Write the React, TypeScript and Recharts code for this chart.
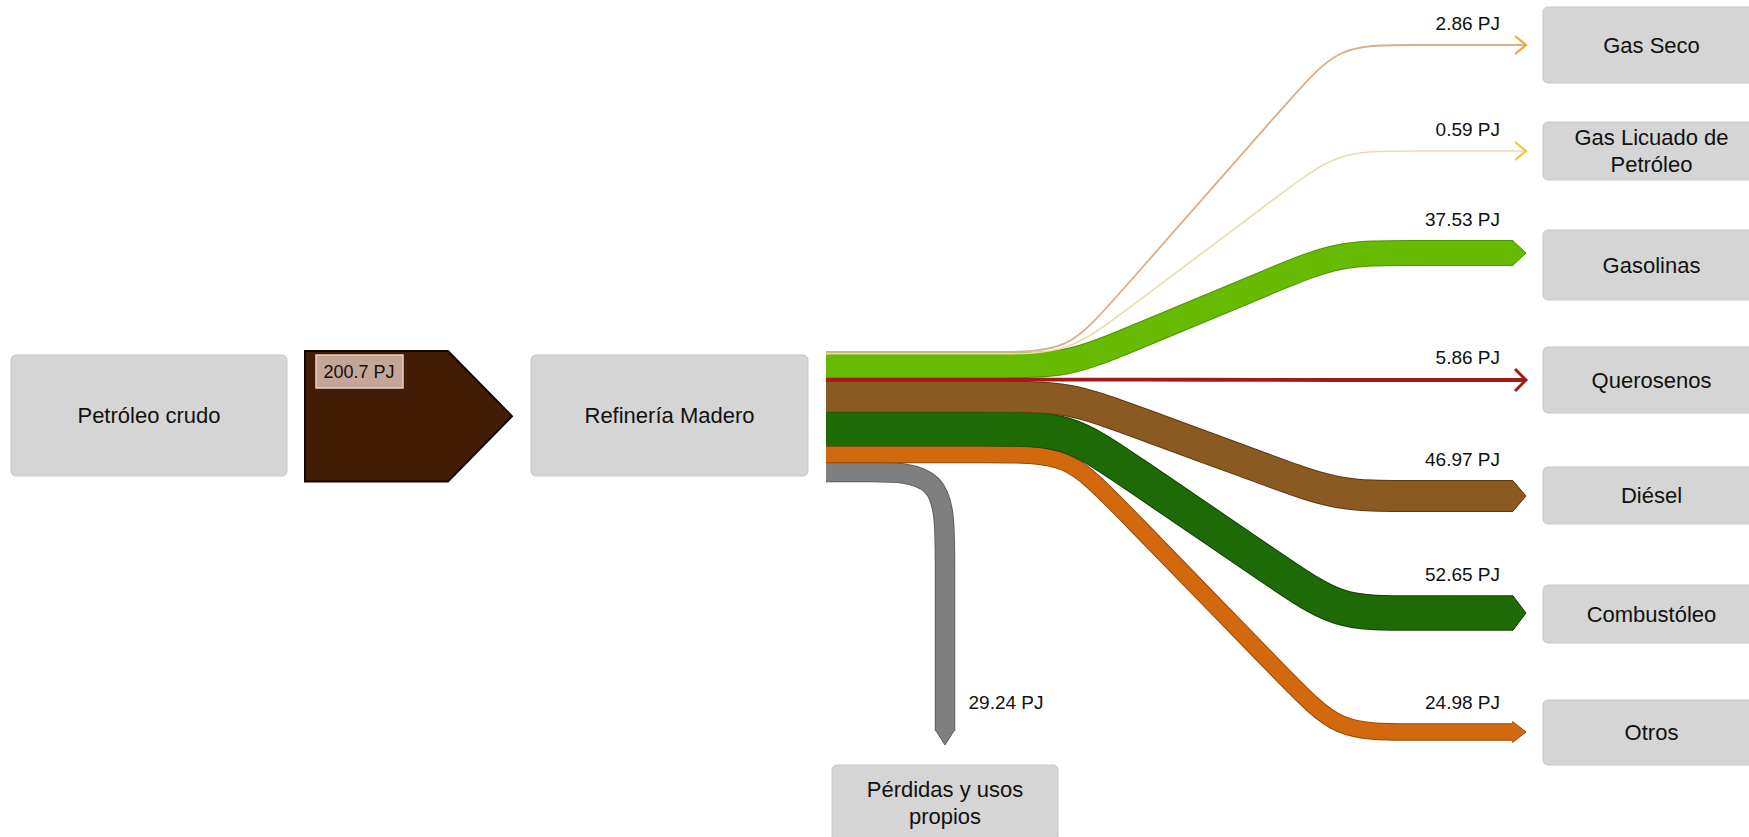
import React from "react"
import { ComposedChart, Line, XAxis, YAxis, ReferenceArea, ReferenceDot } from "recharts"

// datos (PJ)
const origen = "Petróleo crudo"
const refineria = "Refinería Madero"
const crudoPJ = 200.7
const productos = ["Gas Seco", "Gas Licuado de Petróleo", "Gasolinas", "Querosenos", "Diésel", "Combustóleo", "Otros"]
const productosPJ = [2.86, 0.59, 37.53, 5.86, 46.97, 52.65, 24.98]
const perdidas = "Pérdidas y usos propios"
const perdidasPJ = 29.24

// colores de cada flujo
const colores = ["#d9b088", "#e9dbae", "#66bb00", "#a31818", "#8b5a22", "#1e6a06", "#d2690e"]
const bordes = ["#d9b088", "#e9dbae", "#4f9300", "#7a0c0c", "#5c3a12", "#0f4200", "#9a4806"]
const puntas = ["#f2a53a", "#eec53c", "#66bb00", "#a31818", "#8b5a22", "#1e6a06", "#d2690e"]
const grisPerdidas = "#7f7f7f"

// layout en px
const W = 1749
const H = 837
const PX_PER_PJ = 0.65
const FONT = '"Liberation Sans", Arial, Helvetica, sans-serif'
const STACK_TOP = 351
const FLOW_X0 = 826
const BEND_X0 = 1068
const BEND_X1 = 1338
const ROUND = 66
const END_X = 1513
const TIP = 13
const filaY = [45, 151, 253, 380, 496, 613, 732]
const cajasY = [[7, 83], [122, 180], [230, 300], [347, 413], [467, 524], [585, 643], [700, 765]]
const CAJA_X = [1543, 1760]
const PERDIDAS_X = 945
const PERDIDAS_FIN = 731

const ancho = (v: number) => Math.max(v * PX_PER_PJ, 1.6)

function lineas(s: string) {
  if (s.length <= 16) return [s]
  const i = s.lastIndexOf(" ", 16)
  return [s.slice(0, i), s.slice(i + 1)]
}

function Caja(props: any) {
  const { x, y, width, height, texto } = props
  const ls = lineas(texto)
  const cy = y + height / 2
  return (
    <g>
      <rect x={x} y={y} width={width} height={height} rx={5} ry={5} fill="#d5d5d5" stroke="#c8c8c8" strokeWidth={1} />
      {ls.map((l, i) => (
        <text
          key={i}
          x={x + width / 2}
          y={cy + (i - (ls.length - 1) / 2) * 27}
          textAnchor="middle"
          dominantBaseline="central"
          fontFamily={FONT}
          fontSize={22}
          fill="#111"
        >
          {l}
        </text>
      ))}
    </g>
  )
}

function FlechaCrudo(props: any) {
  const { x, y, width, height } = props
  const punta = 64
  const pts = [
    [x, y],
    [x + width - punta, y],
    [x + width, y + height / 2],
    [x + width - punta, y + height],
    [x, y + height],
  ]
    .map((p) => p.join(","))
    .join(" ")
  return (
    <g>
      <polygon points={pts} fill="#421c05" stroke="#140700" strokeWidth={2} />
      <rect x={x + 11} y={y + 4} width={87} height={33} fill="#c4a597" stroke="#ead0c2" strokeWidth={1.5} />
      <text x={x + 54} y={y + 21} textAnchor="middle" dominantBaseline="central" fontFamily={FONT} fontSize={18} fill="#111">
        {crudoPJ.toFixed(1)} PJ
      </text>
    </g>
  )
}

// posición de cada flujo a la salida de la refinería (apilados por valor)
const inicios: number[] = []
productosPJ.reduce((acc, v) => {
  inicios.push(acc + ancho(v) / 2)
  return acc + v * PX_PER_PJ
}, STACK_TOP)
const perdidasY0 = STACK_TOP + productosPJ.reduce((a, b) => a + b, 0) * PX_PER_PJ + (perdidasPJ * PX_PER_PJ) / 2

const fino = (i: number) => productosPJ[i] < 10

// recorrido: horizontal, diagonal, horizontal (esquinas redondeadas con curva basis)
function puntosFlujo(i: number) {
  const y0 = inicios[i]
  const y1 = filaY[i]
  const dx = BEND_X1 - BEND_X0
  const dy = y1 - y0
  const len = Math.hypot(dx, dy)
  const ux = (dx / len) * ROUND
  const uy = (dy / len) * ROUND
  const fin = fino(i) ? END_X + TIP - 1 : END_X
  return [
    { x: FLOW_X0, y: y0 },
    { x: BEND_X0 - ROUND, y: y0 },
    { x: BEND_X0, y: y0 },
    { x: BEND_X0 + ux, y: y0 + uy },
    { x: BEND_X1 - ux, y: y1 - uy },
    { x: BEND_X1, y: y1 },
    { x: BEND_X1 + ROUND, y: y1 },
    { x: fin, y: y1 },
  ]
}

const puntosPerdidas = [
  { x: FLOW_X0, y: perdidasY0 },
  { x: PERDIDAS_X - 80, y: perdidasY0 },
  { x: PERDIDAS_X, y: perdidasY0 },
  { x: PERDIDAS_X, y: perdidasY0 + 80 },
  { x: PERDIDAS_X, y: PERDIDAS_FIN },
]

function Punta(i: number) {
  return (p: any) => {
    const { cx, cy } = p
    const w = ancho(productosPJ[i])
    const etiqueta = (
      <text
        x={cx - 13}
        y={cy - w / 2 - 21}
        textAnchor="end"
        dominantBaseline="central"
        fontFamily={FONT}
        fontSize={19}
        fill="#111"
      >
        {productosPJ[i].toFixed(2)} PJ
      </text>
    )
    if (fino(i)) {
      const h = i === 3 ? 11 : 9
      return (
        <g>
          <polyline
            points={`${cx + TIP - 11},${cy - h} ${cx + TIP},${cy} ${cx + TIP - 11},${cy + h}`}
            fill="none"
            stroke={puntas[i]}
            strokeWidth={i === 3 ? 3 : 2.2}
          />
          {etiqueta}
        </g>
      )
    }
    const ext = i === 6 ? 2 : 0
    const top = cy - w / 2 - ext
    const bot = cy + w / 2 + ext
    return (
      <g>
        <polygon points={`${cx - 1},${top} ${cx},${top} ${cx + TIP},${cy} ${cx},${bot} ${cx - 1},${bot}`} fill={puntas[i]} />
        <polyline points={`${cx - 1},${top} ${cx},${top} ${cx + TIP},${cy} ${cx},${bot} ${cx - 1},${bot}`} fill="none" stroke={bordes[i]} strokeWidth={1} />
        {etiqueta}
      </g>
    )
  }
}

function PuntaPerdidas(p: any) {
  const { cx, cy } = p
  const w = perdidasPJ * PX_PER_PJ
  return (
    <g>
      <polygon points={`${cx - w / 2},${cy - 1} ${cx + w / 2},${cy - 1} ${cx},${cy + 14}`} fill={grisPerdidas} />
      <polyline points={`${cx - w / 2},${cy - 1} ${cx},${cy + 14} ${cx + w / 2},${cy - 1}`} fill="none" stroke="#5f5f5f" strokeWidth={1} />
      <text x={cx + w / 2 + 14} y={cy - 29} textAnchor="start" dominantBaseline="central" fontFamily={FONT} fontSize={19} fill="#111">
        {perdidasPJ.toFixed(2)} PJ
      </text>
    </g>
  )
}

const orden = [6, 5, 4, 3, 2, 1, 0]

export default function App() {
  return (
    <div style={{ position: "absolute", left: 0, top: 0, width: W, height: H, background: "#fff" }}>
      <ComposedChart width={W} height={H} margin={{ top: 0, right: 0, bottom: 0, left: 0 }}>
        <XAxis type="number" dataKey="x" domain={[0, W]} allowDataOverflow hide />
        <YAxis type="number" dataKey="y" domain={[0, H]} allowDataOverflow reversed hide width={0} />

        <ReferenceArea x1={11} x2={287} y1={355} y2={476} ifOverflow="visible" shape={(p: any) => <Caja {...p} texto={origen} />} />
        <ReferenceArea
          x1={305}
          x2={512}
          y1={STACK_TOP}
          y2={STACK_TOP + crudoPJ * PX_PER_PJ}
          ifOverflow="visible"
          shape={(p: any) => <FlechaCrudo {...p} />}
        />
        <ReferenceArea x1={531} x2={808} y1={355} y2={476} ifOverflow="visible" shape={(p: any) => <Caja {...p} texto={refineria} />} />
        {productos.map((nombre, i) => (
          <ReferenceArea
            key={nombre}
            x1={CAJA_X[0]}
            x2={CAJA_X[1]}
            y1={cajasY[i][0]}
            y2={cajasY[i][1]}
            ifOverflow="visible"
            shape={(p: any) => <Caja {...p} texto={nombre} />}
          />
        ))}
        <ReferenceArea x1={832} x2={1058} y1={765} y2={841} ifOverflow="visible" shape={(p: any) => <Caja {...p} texto={perdidas} />} />

        <Line
          data={puntosPerdidas}
          dataKey="y"
          type="basis"
          stroke="#5f5f5f"
          strokeWidth={perdidasPJ * PX_PER_PJ + 1.5}
          dot={false}
          activeDot={false}
          isAnimationActive={false}
        />
        <Line
          data={puntosPerdidas}
          dataKey="y"
          type="basis"
          stroke={grisPerdidas}
          strokeWidth={perdidasPJ * PX_PER_PJ - 0.5}
          dot={false}
          activeDot={false}
          isAnimationActive={false}
        />
        {orden.map((i) =>
          fino(i) ? null : (
            <Line
              key={`b${i}`}
              data={puntosFlujo(i)}
              dataKey="y"
              type="basis"
              stroke={bordes[i]}
              strokeWidth={ancho(productosPJ[i]) + 1.5}
              dot={false}
              activeDot={false}
              isAnimationActive={false}
            />
          ),
        )}
        {orden.map((i) => (
          <Line
            key={`f${i}`}
            data={puntosFlujo(i)}
            dataKey="y"
            type="basis"
            stroke={colores[i]}
            strokeWidth={fino(i) ? ancho(productosPJ[i]) : ancho(productosPJ[i]) - 0.5}
            dot={false}
            activeDot={false}
            isAnimationActive={false}
          />
        ))}

        {productos.map((nombre, i) => (
          <ReferenceDot key={`p${nombre}`} x={END_X} y={filaY[i]} r={0} ifOverflow="visible" shape={Punta(i)} />
        ))}
        <ReferenceDot x={PERDIDAS_X} y={PERDIDAS_FIN} r={0} ifOverflow="visible" shape={PuntaPerdidas} />
      </ComposedChart>
    </div>
  )
}
